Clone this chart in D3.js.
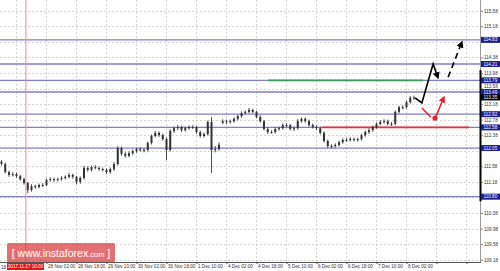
<!DOCTYPE html>
<html>
<head>
<meta charset="utf-8">
<script src="https://cdn.jsdelivr.net/npm/d3@7"></script>
<style>
  body { margin: 0; background: #fff; }
  svg { display: block; font-family: "Liberation Sans", Arial, sans-serif; }
</style>
</head>
<body>
<div id="chart"></div>
<script>
// 2-hour bars, bar index 0 = 27 Nov 10:00 (weekend skipped)
var firstIndex = -4;
var opens = [111.70,111.64,111.43,111.36,111.38,111.33,111.25,111.15,110.97,111.07,
  111.05,111.10,111.10,111.23,111.25,111.23,111.25,111.28,111.31,111.36,
  111.31,111.18,111.28,111.54,111.49,111.56,111.54,111.51,111.49,111.43,
  111.51,111.64,112.05,111.90,111.85,111.92,111.97,112.02,112.00,112.00,
  112.18,112.36,112.44,112.38,112.28,112.00,112.49,112.56,112.59,112.51,
  112.56,112.59,112.59,112.46,112.36,112.41,112.72,112.00,112.02,112.70,
  112.74,112.72,112.74,112.80,112.87,112.95,112.98,113.03,112.98,112.85,
  112.74,112.54,112.46,112.46,112.54,112.56,112.64,112.64,112.54,112.56,
  112.74,112.80,112.74,112.64,112.59,112.56,112.44,112.23,112.10,112.10,
  112.13,112.20,112.26,112.26,112.28,112.26,112.28,112.38,112.46,112.51,
  112.59,112.67,112.72,112.74,112.67,112.67,112.98,113.10,113.10,113.23,
  113.34];
var closes = [111.64,111.43,111.36,111.38,111.33,111.25,111.15,110.97,111.07,111.05,
  111.10,111.10,111.23,111.25,111.23,111.25,111.28,111.31,111.36,111.31,
  111.18,111.28,111.54,111.49,111.56,111.54,111.51,111.49,111.43,111.51,
  111.64,112.05,111.90,111.85,111.92,111.97,112.02,112.00,112.00,112.18,
  112.36,112.44,112.38,112.28,112.00,112.49,112.56,112.59,112.51,112.56,
  112.59,112.59,112.46,112.36,112.41,112.72,112.00,112.02,112.13,112.74,
  112.72,112.74,112.80,112.87,112.95,112.98,113.03,112.98,112.85,112.74,
  112.54,112.46,112.46,112.54,112.56,112.64,112.64,112.54,112.56,112.74,
  112.80,112.74,112.64,112.59,112.56,112.44,112.23,112.10,112.10,112.13,
  112.20,112.26,112.26,112.28,112.26,112.28,112.38,112.46,112.51,112.59,
  112.67,112.72,112.74,112.67,112.67,112.98,113.10,113.10,113.23,113.34,
  113.35];
var highs = [111.74,111.68,111.47,111.43,111.42,111.36,111.29,111.18,111.12,111.11,
  111.14,111.15,111.27,111.30,111.29,111.29,111.33,111.35,111.41,111.39,
  111.34,111.32,111.59,111.58,111.60,111.61,111.58,111.55,111.53,111.55,
  111.69,112.10,112.09,111.95,111.96,112.01,112.06,112.07,112.05,112.22,
  112.40,112.49,112.48,112.42,112.32,112.53,112.60,112.64,112.62,112.60,
  112.63,112.64,112.62,112.50,112.45,112.76,112.85,112.10,112.20,112.79,
  112.78,112.78,112.84,112.91,112.99,113.02,113.08,113.06,113.01,112.89,
  112.77,112.58,112.51,112.58,112.60,112.68,112.69,112.67,112.60,112.79,
  112.84,112.84,112.78,112.68,112.63,112.60,112.48,112.27,112.15,112.17,
  112.24,112.30,112.31,112.33,112.32,112.32,112.42,112.50,112.56,112.63,
  112.71,112.77,112.79,112.78,112.72,113.02,113.14,113.15,113.27,113.39,
  113.40];
var lows = [111.60,111.40,111.31,111.32,111.28,111.21,111.11,110.89,110.93,111.00,
  111.01,111.05,111.07,111.19,111.18,111.19,111.21,111.24,111.27,111.26,
  111.12,111.13,111.24,111.44,111.45,111.50,111.47,111.45,111.38,111.39,
  111.46,111.60,111.85,111.80,111.81,111.87,111.93,111.96,111.94,111.96,
  112.14,112.32,112.33,112.24,111.74,111.96,112.44,112.51,112.46,112.47,
  112.52,112.54,112.42,112.32,112.32,112.37,111.41,111.94,111.98,112.66,
  112.67,112.68,112.70,112.76,112.83,112.91,112.94,112.94,112.81,112.70,
  112.50,112.41,112.42,112.42,112.50,112.52,112.59,112.50,112.49,112.52,
  112.70,112.70,112.60,112.55,112.51,112.40,112.19,112.05,112.04,112.06,
  112.09,112.16,112.21,112.22,112.22,112.21,112.24,112.34,112.41,112.47,
  112.55,112.63,112.68,112.63,112.62,112.63,112.94,113.05,113.06,113.19,
  113.29];

// price axis
var gridPrices = [109.18,109.58,109.98,110.38,110.78,111.18,111.58,111.98,112.38,112.78,
  113.18,113.58,113.98,114.38,114.78,115.18,115.58];
var priceTicks = [109.18,109.58,109.98,110.38,111.18,111.58,112.38,112.78,
  113.18,113.58,113.98,114.38,115.18,115.58];
var levels = [114.83, 114.21, 113.79, 113.49, 112.92, 112.58, 112.05, 110.80];
var lastPrice = 113.35;

// time axis
var timeTicks = [0,8,16,24,32,40,48,56,64,72,80,88,96,104,112,120];
var timeLabels = ["", "28 Nov 02:00", "28 Nov 18:00", "29 Nov 10:00", "30 Nov 02:00",
  "30 Nov 18:00", "1 Dec 10:00", "4 Dec 02:00", "4 Dec 18:00", "5 Dec 10:00",
  "6 Dec 02:00", "6 Dec 18:00", "7 Dec 10:00", "8 Dec 02:00", "", ""];
var markerIndex = 2.5;
var markerLabel = "2017.11.27 10:00";

// annotations
var greenLine = { from: 67.1, to: 108.4, price: 113.79 };
var redLine = { from: 81.5, to: 120.7, price: 112.58 };
var forecastIdx = [106.3, 108.1, 111.1, 112.4];
var forecastPrice = [113.34, 113.21, 114.21, 113.85];
var dashIdx = [115.1, 118.8];
var dashPrice = [113.87, 114.78];
var altIdx = [108.1, 110.5];
var altPrice = [113.08, 112.85];
var altDot = [111.6, 112.82];
var altArrowIdx = [111.9, 114.0];
var altArrowPrice = [112.87, 113.36];

var w = 500, h = 271;
var plotRight = 480, plotBottom = 262;

var x = d3.scaleLinear().domain([0, 120]).range([16.5, 466.5]);
var y = d3.scaleLinear().domain([109.18, 115.58]).range([259.7, 10.7]);

var svg = d3.select("#chart").append("svg")
  .attr("width", w).attr("height", h);

var defs = svg.append("defs");
defs.append("clipPath").attr("id", "plot")
  .append("rect").attr("x", 0).attr("y", 0)
  .attr("width", plotRight).attr("height", plotBottom);
function arrowMarker(id, color) {
  defs.append("marker").attr("id", id)
    .attr("viewBox", "0 0 10 10").attr("refX", 8).attr("refY", 5)
    .attr("markerWidth", 4.5).attr("markerHeight", 4.5)
    .attr("orient", "auto").attr("markerUnits", "strokeWidth")
    .append("path").attr("d", "M0,0L10,5L0,10z").attr("fill", color);
}
arrowMarker("arrBlack", "#000");
arrowMarker("arrRed", "#e8202a");

var plot = svg.append("g").attr("clip-path", "url(#plot)");

// grid
plot.selectAll(".hgrid").data(gridPrices).enter().append("line")
  .attr("x1", 0).attr("x2", plotRight)
  .attr("y1", d => Math.round(y(d)) + 0.5).attr("y2", d => Math.round(y(d)) + 0.5)
  .attr("stroke", "#c8c8c8").attr("stroke-width", 0.8).attr("stroke-dasharray", "2,2");
plot.selectAll(".vgrid").data(timeTicks).enter().append("line")
  .attr("y1", 0).attr("y2", plotBottom)
  .attr("x1", d => x(d)).attr("x2", d => x(d))
  .attr("stroke", "#c8c8c8").attr("stroke-width", 0.8).attr("stroke-dasharray", "2,2");

// support / resistance levels
plot.selectAll(".level").data(levels).enter().append("line")
  .attr("x1", 0).attr("x2", plotRight)
  .attr("y1", d => y(d)).attr("y2", d => y(d))
  .attr("stroke", "#7f7fc8").attr("stroke-width", 1.3);

plot.append("line")
  .attr("x1", x(greenLine.from)).attr("x2", x(greenLine.to))
  .attr("y1", y(greenLine.price)).attr("y2", y(greenLine.price))
  .attr("stroke", "#3a9a5a").attr("stroke-width", 1.8);
plot.append("line")
  .attr("x1", x(redLine.from)).attr("x2", x(redLine.to))
  .attr("y1", y(redLine.price)).attr("y2", y(redLine.price))
  .attr("stroke", "#ee3030").attr("stroke-width", 1.6);

// red vertical marker
svg.append("line")
  .attr("x1", x(markerIndex)).attr("x2", x(markerIndex))
  .attr("y1", 0).attr("y2", plotBottom)
  .attr("stroke", "#f08a8a").attr("stroke-width", 1);

// candles
var bars = closes.map(function (c, k) {
  return { i: k + firstIndex, o: opens[k], h: highs[k], l: lows[k], c: c };
});
var candle = plot.selectAll(".bar").data(bars).enter().append("g");
candle.append("line")
  .attr("x1", d => x(d.i)).attr("x2", d => x(d.i))
  .attr("y1", d => y(d.h)).attr("y2", d => y(d.l))
  .attr("stroke", "#222").attr("stroke-width", 0.8);
candle.append("rect")
  .attr("x", d => x(d.i) - 1).attr("width", 2)
  .attr("y", d => y(Math.max(d.o, d.c)))
  .attr("height", d => Math.max(1, Math.abs(y(d.o) - y(d.c))))
  .attr("fill", "#333");

// forecast paths
var line = d3.line().x(d => x(d[0])).y(d => y(d[1]));
plot.append("path")
  .attr("d", line(d3.zip(forecastIdx, forecastPrice)))
  .attr("fill", "none").attr("stroke", "#000").attr("stroke-width", 1.6)
  .attr("marker-end", "url(#arrBlack)");
plot.append("path")
  .attr("d", line(d3.zip(dashIdx, dashPrice)))
  .attr("fill", "none").attr("stroke", "#000").attr("stroke-width", 1.6)
  .attr("stroke-dasharray", "6,4")
  .attr("marker-end", "url(#arrBlack)");
plot.append("path")
  .attr("d", line(d3.zip(altIdx, altPrice)))
  .attr("fill", "none").attr("stroke", "#e8202a").attr("stroke-width", 1.5);
plot.append("circle")
  .attr("cx", x(altDot[0])).attr("cy", y(altDot[1])).attr("r", 2.6)
  .attr("fill", "#e8202a");
plot.append("path")
  .attr("d", line(d3.zip(altArrowIdx, altArrowPrice)))
  .attr("fill", "none").attr("stroke", "#e8202a").attr("stroke-width", 1.5)
  .attr("marker-end", "url(#arrRed)");

// frame
svg.append("line").attr("x1", plotRight + 0.5).attr("x2", plotRight + 0.5)
  .attr("y1", 0).attr("y2", plotBottom + 1).attr("stroke", "#999").attr("stroke-width", 1);
svg.append("line").attr("x1", plotRight + 0.5).attr("x2", plotRight + 0.5)
  .attr("y1", y(114.05)).attr("y2", y(110.68)).attr("stroke", "#000").attr("stroke-width", 2);

// price axis
var yAxis = d3.axisRight(y).tickValues(priceTicks).tickSize(2).tickPadding(1)
  .tickFormat(d3.format(".2f"));
var gy = svg.append("g").attr("transform", "translate(" + (plotRight + 1) + ",0)").call(yAxis);
gy.select(".domain").remove();
gy.selectAll("line").attr("stroke", "#777");
gy.selectAll("text").attr("font-size", 4.6).attr("fill", "#333");
// nudge the label that sits just above the 113.49 level box
gy.selectAll(".tick text").filter(d => d === 113.58).attr("dy", "-0.25em");

var lvl = svg.selectAll(".lvlLabel").data(levels).enter().append("g")
  .attr("transform", d => "translate(" + (plotRight + 1) + "," + y(d) + ")");
lvl.append("rect").attr("x", 0).attr("y", -3).attr("width", 19).attr("height", 6)
  .attr("fill", "#1d1d8f");
lvl.append("text").attr("x", 2.5).attr("y", 1.6).attr("font-size", 4.6)
  .attr("fill", "#fff").text(d => d.toFixed(2));

var cur = svg.append("g").attr("transform", "translate(" + (plotRight + 1) + "," + y(lastPrice) + ")");
cur.append("rect").attr("x", 0).attr("y", -3).attr("width", 19).attr("height", 6).attr("fill", "#000");
cur.append("text").attr("x", 2.5).attr("y", 1.6).attr("font-size", 4.6)
  .attr("fill", "#fff").text(lastPrice.toFixed(2));

// time axis
var xAxis = d3.axisBottom(x).tickValues(timeTicks).tickSize(2)
  .tickFormat((d, k) => timeLabels[k]);
var gx = svg.append("g").attr("transform", "translate(0," + plotBottom + ")").call(xAxis);
gx.select(".domain").attr("stroke", "#555").attr("d", "M0,0.5H" + (plotRight + 1));
gx.selectAll("line").attr("stroke", "#555");
gx.selectAll("text").attr("font-size", 4.6).attr("fill", "#333")
  .attr("text-anchor", "start").attr("dx", 1).attr("dy", "0.2em");
svg.append("text").attr("x", 1).attr("y", 268.6).attr("font-size", 4.6)
  .attr("fill", "#333").text("18");

var ml = svg.append("g");
ml.append("rect").attr("x", 7).attr("y", 263).attr("width", 37).attr("height", 7).attr("fill", "#e81010");
ml.append("text").attr("x", 25.5).attr("y", 268.4).attr("font-size", 4.6)
  .attr("text-anchor", "middle").attr("fill", "#fff").text(markerLabel);

// watermark
var wm = svg.append("g");
wm.append("rect").attr("x", 7).attr("y", 243).attr("width", 108).attr("height", 19)
  .attr("rx", 1.5).attr("fill", "#d83a3a").attr("opacity", 0.72);
var wt = wm.append("text").attr("x", 61).attr("y", 257).attr("text-anchor", "middle")
  .attr("fill", "#fff").attr("font-size", 10.5);
wt.append("tspan").text("[ www.instaforex");
wt.append("tspan").attr("font-size", 7.5).text(".com");
wt.append("tspan").text(" ]");
</script>
</body>
</html>
